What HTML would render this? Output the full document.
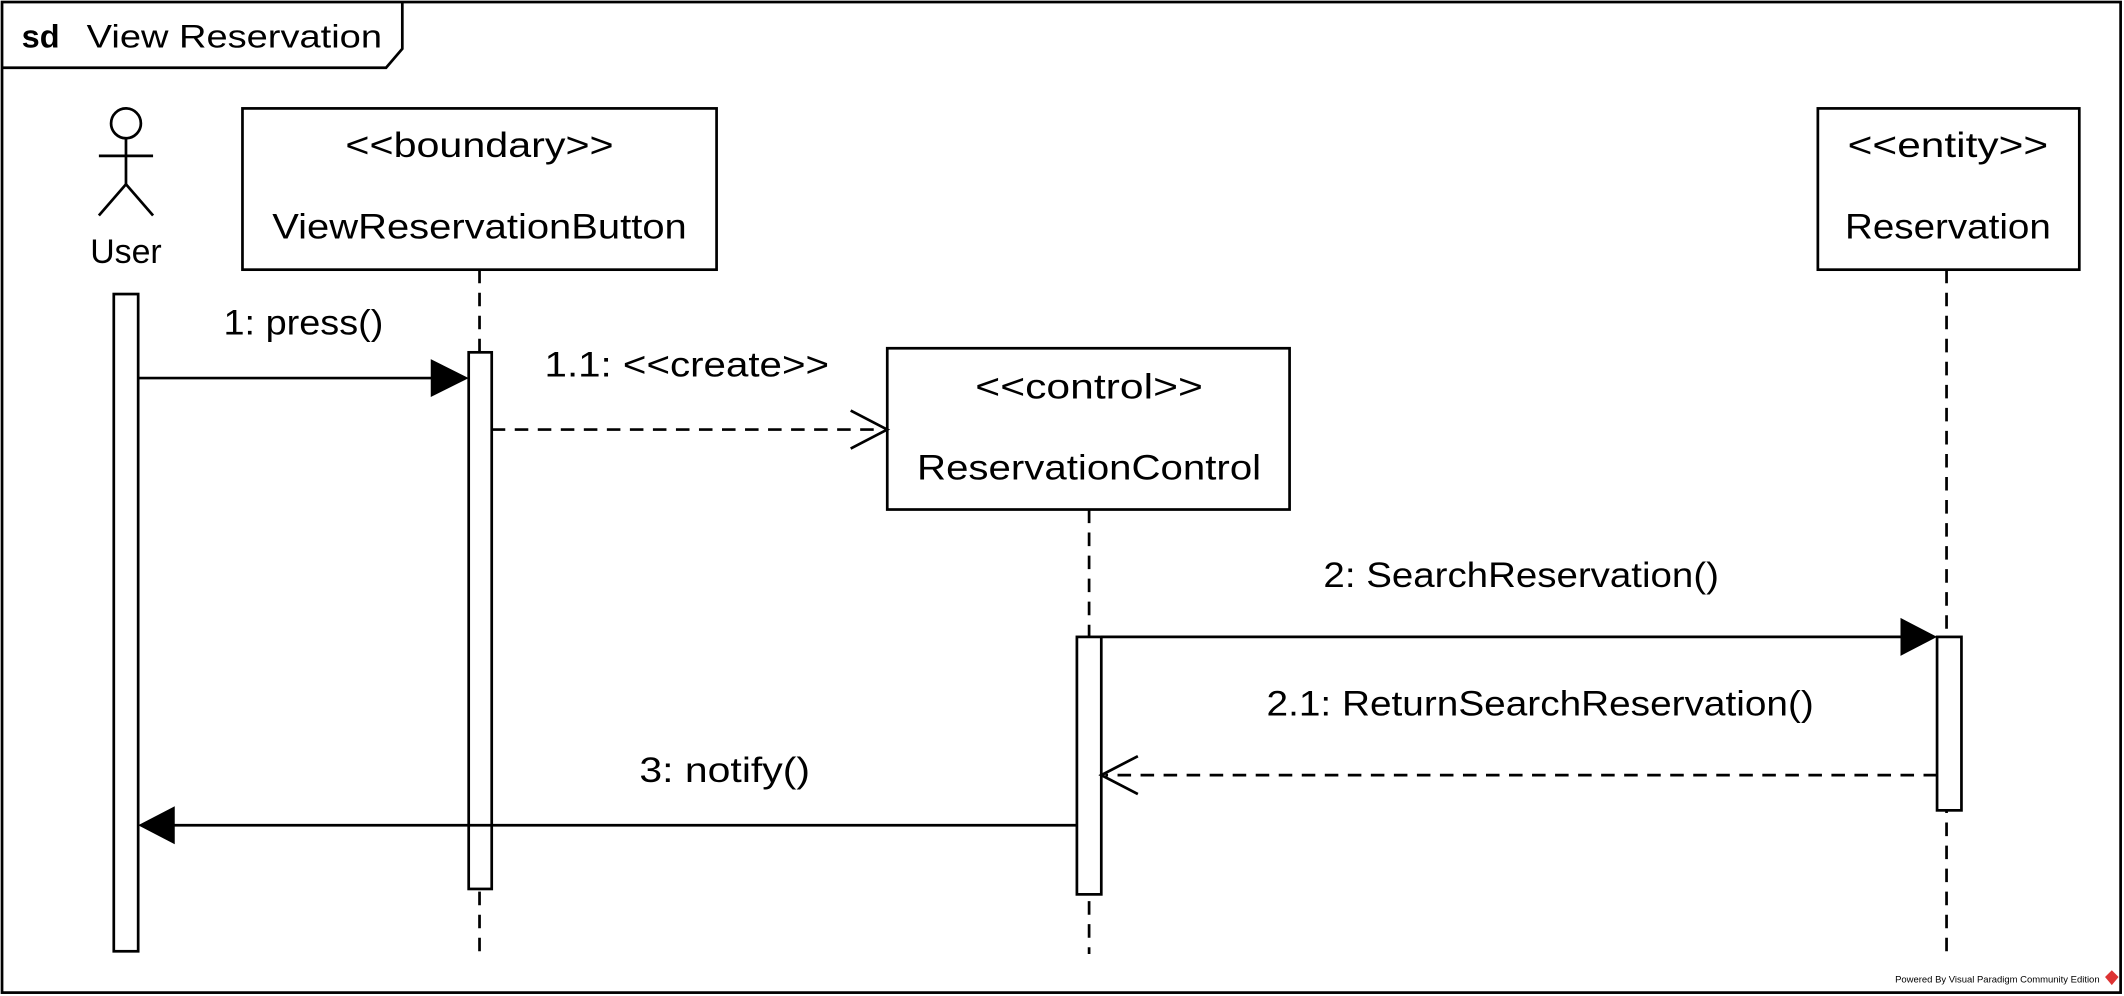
<!DOCTYPE html>
<html><head><meta charset="utf-8"><style>
html,body{margin:0;padding:0;background:#fff;}
svg{display:block;}
text{font-family:"Liberation Sans",sans-serif;fill:#000;}
</style></head><body>
<svg width="2124" height="996" viewBox="0 0 1568 735" preserveAspectRatio="none" xmlns="http://www.w3.org/2000/svg">
<rect x="0" y="0" width="1568" height="735" fill="#fff"/>
<rect x="1.5" y="1.5" width="1564" height="731" fill="none" stroke="#000" stroke-width="2"/>
<path d="M1.5 50 L285 50 L297 36 L297 1.5" fill="none" stroke="#000" stroke-width="2"/>
<text x="16" y="35" font-size="24" font-weight="bold">sd</text>
<text x="64" y="35" font-size="24" textLength="218" lengthAdjust="spacingAndGlyphs">View Reservation</text>

<g stroke="#000" stroke-width="2" fill="none">
<circle cx="93" cy="91" r="11"/>
<line x1="93" y1="102" x2="93" y2="136"/>
<line x1="73" y1="115" x2="113" y2="115"/>
<line x1="93" y1="136" x2="73" y2="159"/>
<line x1="93" y1="136" x2="113" y2="159"/>
</g>
<text x="93" y="194" font-size="25" text-anchor="middle">User</text>

<g stroke="#000" stroke-width="2" stroke-dasharray="10,7" fill="none">
<line x1="354" y1="199" x2="354" y2="704"/>
<line x1="804" y1="376" x2="804" y2="704"/>
<line x1="1437" y1="199" x2="1437" y2="704"/>
</g>

<g stroke="#000" stroke-width="2" fill="#fff">
<rect x="179" y="80" width="350" height="119"/>
<rect x="655" y="257" width="297" height="119"/>
<rect x="1342" y="80" width="193" height="119"/>
<rect x="84" y="217" width="18" height="485"/>
<rect x="346" y="260" width="17" height="396"/>
<rect x="795" y="470" width="18" height="190"/>
<rect x="1430" y="470" width="18" height="128"/>
</g>

<g font-size="26" text-anchor="middle">
<text x="354" y="116" textLength="198" lengthAdjust="spacingAndGlyphs">&lt;&lt;boundary&gt;&gt;</text>
<text x="354" y="176" textLength="306" lengthAdjust="spacingAndGlyphs">ViewReservationButton</text>
<text x="804" y="294" textLength="168" lengthAdjust="spacingAndGlyphs">&lt;&lt;control&gt;&gt;</text>
<text x="804" y="354" textLength="254" lengthAdjust="spacingAndGlyphs">ReservationControl</text>
<text x="1438" y="116" textLength="148" lengthAdjust="spacingAndGlyphs">&lt;&lt;entity&gt;&gt;</text>
<text x="1438" y="176" textLength="152" lengthAdjust="spacingAndGlyphs">Reservation</text>
<text x="224" y="247" textLength="118" lengthAdjust="spacingAndGlyphs">1: press()</text>
<text x="507" y="278" textLength="210" lengthAdjust="spacingAndGlyphs">1.1: &lt;&lt;create&gt;&gt;</text>
<text x="1123" y="433" textLength="292" lengthAdjust="spacingAndGlyphs">2: SearchReservation()</text>
<text x="1137" y="528" textLength="404" lengthAdjust="spacingAndGlyphs">2.1: ReturnSearchReservation()</text>
<text x="535" y="577" textLength="126" lengthAdjust="spacingAndGlyphs">3: notify()</text>
</g>

<g stroke="#000" stroke-width="2" fill="none">
<line x1="102" y1="279" x2="320" y2="279"/>
<line x1="363" y1="317" x2="652" y2="317" stroke-dasharray="10,7"/>
<polyline points="628,303 655,317 628,331"/>
<line x1="813" y1="470" x2="1404" y2="470"/>
<line x1="1430" y1="572" x2="816" y2="572" stroke-dasharray="10,7"/>
<polyline points="840,558 813,572 840,586"/>
<line x1="795" y1="609" x2="128" y2="609"/>
</g>
<g fill="#000">
<polygon points="318,265 346,279 318,293"/>
<polygon points="1403,456 1430,470 1403,484"/>
<polygon points="129,595 102,609 129,623"/>
</g>
<text x="1550" y="725" font-size="7" text-anchor="end" fill="#555">Powered By Visual Paradigm Community Edition</text>
<polygon points="1559,716 1564,721 1559,727 1554,721" fill="#d33"/>
</svg>
</body></html>
